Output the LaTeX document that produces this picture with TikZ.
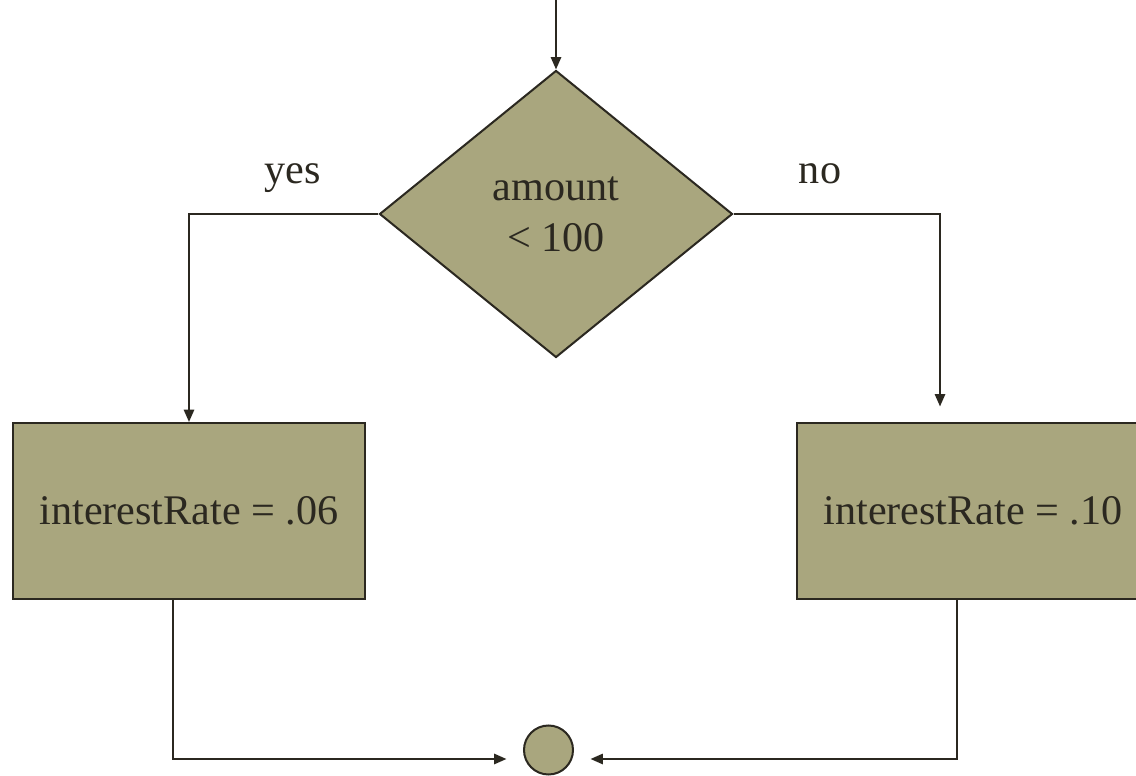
\documentclass[tikz,border=0pt]{standalone}
\usepackage{fontspec}
\setmainfont{Liberation Serif}
\usetikzlibrary{shapes.geometric,arrows.meta}
\begin{document}
\begin{tikzpicture}[ink/.style={line width=1.15pt, fcInk}, flow/.style={ink, -{Triangle[length=7pt, width=5.8pt]}}, stepbox/.style={draw=fcInk, line width=1.15pt, fill=fcFill, minimum width=7.04cm, minimum height=3.52cm, inner sep=0pt, font=\fontsize{24}{29}\selectfont}, test/.style={diamond, draw=fcInk, line width=1.15pt, fill=fcFill, minimum width=7.06cm, minimum height=5.74cm, inner sep=0pt, align=center, font=\fontsize{24}{29}\selectfont}, joint/.style={circle, draw=fcInk, line width=1.15pt, fill=fcFill, minimum size=0.98cm, inner sep=0pt}, tag/.style={anchor=base, font=\fontsize{24}{29}\selectfont}, every node/.style={text=fcInk}]
\definecolor{fcInk}{RGB}{43,40,32}
\definecolor{fcFill}{RGB}{169,166,126}
\useasboundingbox (0,0) rectangle (22.72,15.5);
\clip (0,0) rectangle (22.72,15.5);
\coordinate (entry) at (11.12,15.5);
\node[test] (dia) at (11.12,11.22) {amount\\< 100};
\node[stepbox] (low) at (3.78,5.28) {interestRate = .06};
\node[stepbox] (high) at (19.46,5.28) {interestRate = .10};
\node[joint] (merge) at (10.97,0.50) {};
\node[tag] (yes) at (5.86,11.82) {yes};
\node[tag] (no) at (16.40,11.82) {no};
% branch ends and bottom corners
\coordinate (noend) at (18.80,7.37);
\coordinate (lowout) at ([xshift=-0.32cm]low.south);
\coordinate (highout) at ([xshift=-0.32cm]high.south);
\draw[flow] (entry) -- (dia.north);
\draw[flow] (dia.west) -| (low.north);
\draw[flow] (dia.east) -| (noend);
\draw[flow] (lowout) |- ([xshift=-0.33cm, yshift=-0.18cm]merge.west);
\draw[flow] (highout) |- ([xshift=0.33cm, yshift=-0.18cm]merge.east);
\end{tikzpicture}
\end{document}
